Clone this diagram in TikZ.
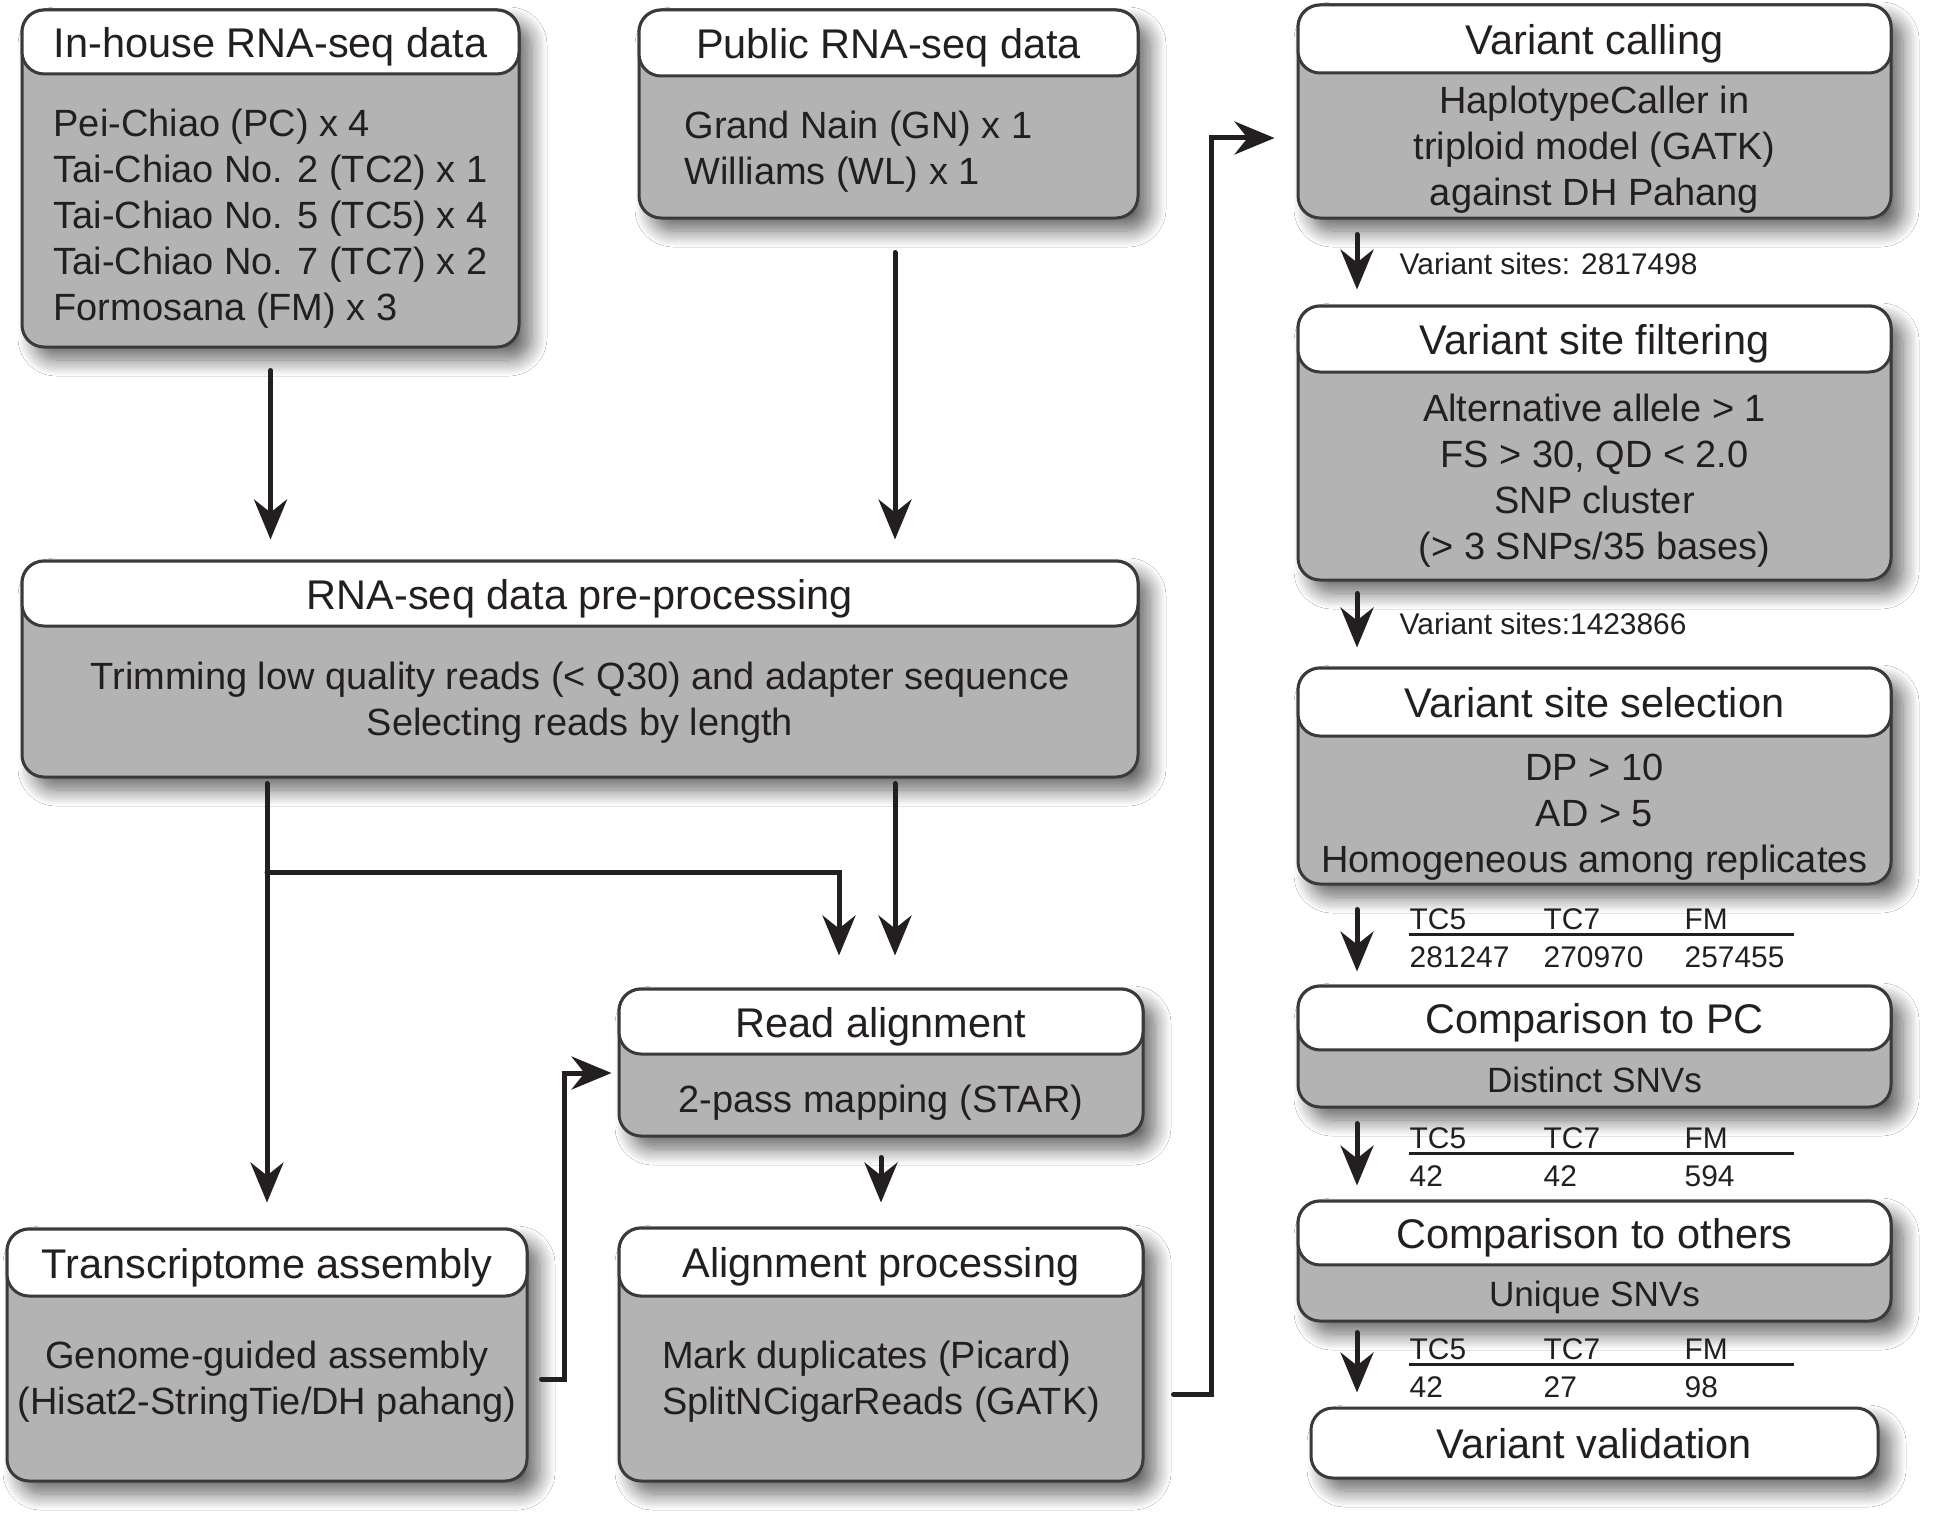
\documentclass[tikz,border=0pt]{standalone}
\usepackage{fontspec}
\setmainfont{Liberation Sans}
\usetikzlibrary{arrows.meta,calc,positioning,shadows.blur}
\definecolor{ink}{RGB}{35,31,32}
\definecolor{rim}{RGB}{58,58,58}
\definecolor{slab}{RGB}{179,179,179}

\begin{document}
\begin{tikzpicture}[x=0.1mm,y=-0.1mm,
  panel/.style={draw=rim,line width=0.3mm,fill=slab,rounded corners=2.2mm,
    blur shadow={shadow xshift=1.2mm,shadow yshift=-1.3mm,shadow blur radius=1.6mm,
      shadow opacity=60,shadow blur steps=14}},
  head/.style={draw=rim,line width=0.3mm,fill=white,rounded corners=2.2mm,anchor=north,
    font=\fontsize{11.8}{14}\selectfont,text=ink,text height=3.6mm,text depth=0.45mm},
  body/.style={font=\fontsize{10.8}{13.1}\selectfont,text=ink,align=center,inner sep=0,yshift=-.3mm},
  lbl/.style={font=\fontsize{8.5}{10}\selectfont,text=ink,inner sep=0},
  arr/.style={-{Stealth[length=4mm,width=3.3mm,inset=1.3mm]},draw=ink,line width=0.5mm,line cap=round}]
  \fill[white] (0,0) rectangle (1948,1523);
  \useasboundingbox (0,0) rectangle (1948,1523);

  \node[panel,minimum width=49.7mm,minimum height=33.7mm] (inhouse) at (270.5,178.5) {};
  \node[head,minimum width=49.7mm,minimum height=6.3mm] (inhouse-h) at (inhouse.north) {In-house RNA-seq data};
  \node[body,align=left,yshift=-.4mm] (inhouse-b) at ($(inhouse-h.south)!.5!(inhouse.south)$)
    {Pei-Chiao (PC) x 4\\Tai-Chiao No. 2 (TC2) x 1\\Tai-Chiao No. 5 (TC5) x 4\\Tai-Chiao No. 7 (TC7) x 2\\Formosana (FM) x 3};

  \node[panel,minimum width=49.9mm,minimum height=20.8mm] (public) at (888.5,114) {};
  \node[head,minimum width=49.9mm,minimum height=6.6mm] (public-h) at (public.north) {Public RNA-seq data};
  \node[body,align=left,xshift=-3mm] (public-b) at ($(public-h.south)!.5!(public.south)$)
    {Grand Nain (GN) x 1\\Williams (WL) x 1};

  \node[panel,minimum width=111.6mm,minimum height=21.6mm] (preproc) at (580,669) {};
  \node[head,minimum width=111.6mm,minimum height=6.5mm] (preproc-h) at (preproc.north) {RNA-seq data pre-processing};
  \node[body,yshift=.3mm] (preproc-b) at ($(preproc-h.south)!.5!(preproc.south)$)
    {Trimming low quality reads (< Q30) and adapter sequence\\Selecting reads by length};

  \node[panel,minimum width=52mm,minimum height=25.2mm] (transcript) at (267,1355) {};
  \node[head,minimum width=52mm,minimum height=6.7mm] (transcript-h) at (transcript.north) {Transcriptome assembly};
  \node[body,yshift=1.1mm] (transcript-b) at ($(transcript-h.south)!.5!(transcript.south)$)
    {Genome-guided assembly\\(Hisat2-StringTie/DH pahang)};

  \node[panel,minimum width=52.4mm,minimum height=14.7mm] (readalign) at (881,1062.5) {};
  \node[head,minimum width=52.4mm,minimum height=6.5mm] (readalign-h) at (readalign.north) {Read alignment};
  \node[body,yshift=-.3mm] (readalign-b) at ($(readalign-h.south)!.5!(readalign.south)$) {2-pass mapping (STAR)};

  \node[panel,minimum width=52.4mm,minimum height=25.3mm] (alignproc) at (881,1354.5) {};
  \node[head,minimum width=52.4mm,minimum height=6.8mm] (alignproc-h) at (alignproc.north) {Alignment processing};
  \node[body,align=left,yshift=1.1mm] (alignproc-b) at ($(alignproc-h.south)!.5!(alignproc.south)$)
    {Mark duplicates (Picard)\\SplitNCigarReads (GATK)};

  \node[panel,minimum width=59.3mm,minimum height=21.3mm] (varcall) at (1594.5,111.5) {};
  \node[head,minimum width=59.3mm,minimum height=6.8mm] (varcall-h) at (varcall.north) {Variant calling};
  \node[body] (varcall-b) at ($(varcall-h.south)!.5!(varcall.south)$)
    {HaplotypeCaller in\\triploid model (GATK)\\against DH Pahang};

  \node[panel,minimum width=59.3mm,minimum height=27.4mm] (filter) at (1594.5,443) {};
  \node[head,minimum width=59.3mm,minimum height=6.6mm] (filter-h) at (filter.north) {Variant site filtering};
  \node[body] (filter-b) at ($(filter-h.south)!.5!(filter.south)$)
    {Alternative allele > 1\\FS > 30, QD < 2.0\\SNP cluster\\(> 3 SNPs/35 bases)};

  \node[panel,minimum width=59.3mm,minimum height=21.6mm] (select) at (1594.5,776) {};
  \node[head,minimum width=59.3mm,minimum height=6.8mm] (select-h) at (select.north) {Variant site selection};
  \node[body,yshift=-.3mm] (select-b) at ($(select-h.south)!.5!(select.south)$)
    {DP > 10\\AD > 5\\Homogeneous among replicates};

  \node[panel,minimum width=59.3mm,minimum height=12.1mm] (comppc) at (1594.5,1046.5) {};
  \node[head,minimum width=59.3mm,minimum height=5.8mm] (comppc-h) at (comppc.north) {Comparison to PC};
  \node[body,font=\fontsize{10}{12}\selectfont,yshift=.3mm] (comppc-b) at ($(comppc-h.south)!.5!(comppc.south)$) {Distinct SNVs};

  \node[panel,minimum width=59.3mm,minimum height=12mm] (compoth) at (1594.5,1261) {};
  \node[head,minimum width=59.3mm,minimum height=6mm] (compoth-h) at (compoth.north) {Comparison to others};
  \node[body,font=\fontsize{10}{12}\selectfont] (compoth-b) at ($(compoth-h.south)!.5!(compoth.south)$) {Unique SNVs};

  \node[panel,fill=white,minimum width=56.7mm,minimum height=7mm,font=\fontsize{11.8}{14}\selectfont,text=ink,
    text height=3.6mm,text depth=0.45mm] (valid) at (1594.5,1443) {Variant validation};

  \draw[arr,shorten <=2.2mm,shorten >=2mm] (inhouse.south) -- (inhouse.south |- preproc.north);
  \draw[arr,shorten <=3.3mm,shorten >=2mm] ([xshift=1.4mm]readalign.north |- public.south) -- ([xshift=1.4mm]readalign.north |- preproc.north);
  \draw[arr,shorten <=.5mm,shorten >=3.2mm] ([xshift=1.4mm]readalign.north |- preproc.south) -- ([xshift=1.4mm]readalign.north);
  \draw[arr,shorten <=.5mm,shorten >=2.5mm] (transcript.north |- preproc.south) -- (transcript.north);
  \coordinate (split) at ($(transcript.north |- preproc.south)+(0,94)$);
  \draw[arr,shorten >=3.2mm] (split) -| ([xshift=-4.2mm]readalign.north);
  \draw[arr,shorten >=.6mm] ([shift={(13,24)}]transcript.east) -- ++(23,0) |- ([yshift=-1.05mm]readalign.west);
  \draw[arr,shorten <=2mm,shorten >=2.4mm] (readalign.south) -- (alignproc.north);
  \draw[arr,shorten >=2.2mm] ([shift={(29,40)}]alignproc.east) -- ++(38,0) |- ([yshift=-2.65mm]varcall.west);

  \coordinate (rail) at (1357,0);
  \draw[arr,shorten <=1.5mm,shorten >=1.5mm] (rail |- varcall.south) -- (rail |- filter.north);
  \draw[arr,shorten <=1.2mm,shorten >=1.9mm] (rail |- filter.south) -- (rail |- select.north);
  \draw[arr,shorten <=2.4mm,shorten >=1.3mm] (rail |- select.south) -- (rail |- comppc.north);
  \draw[arr,shorten <=1.5mm,shorten >=1.4mm] (rail |- comppc.south) -- (rail |- compoth.north);
  \draw[arr,shorten <=1mm,shorten >=1.4mm] (rail |- compoth.south) -- (rail |- valid.north);

  \node[lbl,anchor=west] (sites1) at (1399,264) {Variant sites: 2817498};
  \node[lbl,anchor=west] (sites2) at (1399,624) {Variant sites:1423866};

  \foreach \t/\y/\a/\b/\c in {1/934/281247/270970/257455,2/1153/42/42/594,3/1364/42/27/98}{
    \draw[ink,line width=0.3mm] (1409,\y) -- (1794,\y);
    \node[lbl,anchor=base west] (tab\t-tc5) at (1409,\y-5) {TC5};
    \node[lbl,anchor=base west] (tab\t-tc7) at (1543,\y-5) {TC7};
    \node[lbl,anchor=base west] (tab\t-fm) at (1684,\y-5) {FM};
    \node[lbl,anchor=base west] (tab\t-n5) at (1409,\y+33) {\a};
    \node[lbl,anchor=base west] (tab\t-n7) at (1543,\y+33) {\b};
    \node[lbl,anchor=base west] (tab\t-nf) at (1684,\y+33) {\c};
  }
\end{tikzpicture}
\end{document}
